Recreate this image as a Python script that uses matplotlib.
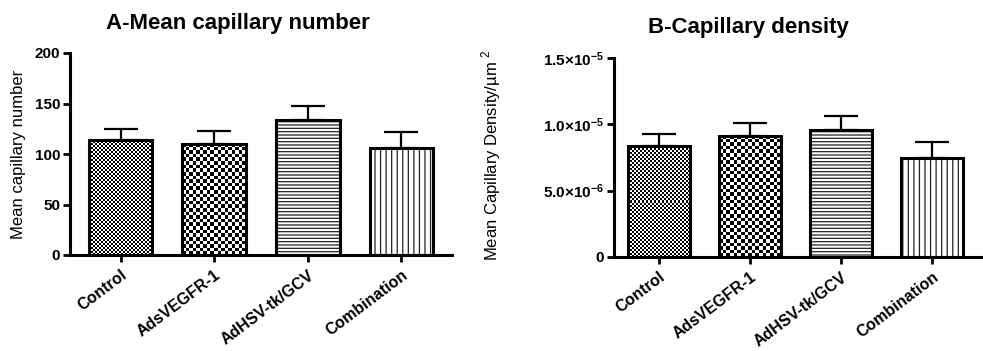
import numpy as np
import matplotlib
matplotlib.use("Agg")
import matplotlib.pyplot as plt

plt.rcParams['font.family'] = ['Liberation Sans', 'DejaVu Sans']
plt.rcParams['mathtext.fontset'] = 'custom'
plt.rcParams['mathtext.rm'] = 'Liberation Sans'
plt.rcParams['mathtext.bf'] = 'Liberation Sans:bold'
plt.rcParams['hatch.linewidth'] = 0.9

categories = ["Control", "AdsVEGFR-1", "AdHSV-tk/GCV", "Combination"]

# Panel A: mean capillary number
a_means = [114, 110, 134, 106]
a_errs = [11, 13, 14, 16]
a_yticks = [0, 50, 100, 150, 200]
a_yticklabels = ["0", "50", "100", "150", "200"]

# Panel B: capillary density
b_means = [8.36e-6, 9.14e-6, 9.57e-6, 7.44e-6]
b_errs = [0.91e-6, 0.93e-6, 1.06e-6, 1.25e-6]
b_yticks = [0, 5e-6, 1e-5, 1.5e-5]
b_yticklabels = ["0", r"$\mathbf{5.0{\times}10^{-6}}$",
                 r"$\mathbf{1.0{\times}10^{-5}}$", r"$\mathbf{1.5{\times}10^{-5}}$"]

# fill style per bar: ('checker', cell_px) or ('hatch', pattern)
fills = [("checker", 2.0), ("checker", 3.6), ("hatch", "-----"), ("hatch", "|||")]

W, H = 983, 351
fig = plt.figure(figsize=(W / 100, H / 100), dpi=100)


def px_axes(x0, x1, ytop, ybot):
    return fig.add_axes([x0 / W, 1 - ybot / H, (x1 - x0) / W, (ybot - ytop) / H])


def draw_panel(ax, means, errs, xlim, ylim, yticks, yticklabels, ylabel, ytick_fs):
    x = np.arange(len(categories))
    width = 0.68
    ax.set_xlim(*xlim)
    ax.set_ylim(*ylim)
    hatches = [f[1] if f[0] == "hatch" else "" for f in fills]
    bars = ax.bar(x, means, width=width, color="white", edgecolor="#222222",
                  linewidth=0, hatch=hatches, zorder=2)
    for patch, f in zip(bars.patches, fills):
        if f[0] != "checker":
            continue
        cell = f[1]
        x0, y0 = patch.get_x(), patch.get_y()
        w, h = patch.get_width(), patch.get_height()
        (px0, py0), (px1, py1) = ax.transData.transform([(x0, y0), (x0 + w, y0 + h)])
        nx = max(1, int(round((px1 - px0) / cell)))
        ny = max(1, int(round((py1 - py0) / cell)))
        arr = np.add.outer(np.arange(ny), np.arange(nx)) % 2
        im = ax.imshow(arr, cmap="gray", vmin=0, vmax=1,
                       extent=(x0, x0 + w, y0, y0 + h), origin="lower",
                       interpolation="nearest", aspect="auto", zorder=2.5)
        im.set_clip_path(patch)
    ax.bar(x, means, width=width, fill=False, edgecolor="black", linewidth=2.2, zorder=3)
    ax.errorbar(x, means, yerr=[np.zeros(len(errs)), errs], fmt="none",
                ecolor="black", elinewidth=1.6, capsize=12, capthick=1.6, zorder=1)
    ax.set_xlim(*xlim)
    ax.set_ylim(*ylim)
    ax.set_aspect("auto")
    for s in ["top", "right"]:
        ax.spines[s].set_visible(False)
    for s in ["left", "bottom"]:
        ax.spines[s].set_linewidth(2.2)
    ax.set_yticks(yticks)
    ax.set_yticklabels(yticklabels, fontsize=ytick_fs, fontweight="bold")
    ax.set_xticks(x)
    ax.set_xticklabels(categories, rotation=37, ha="right", rotation_mode="anchor",
                       fontsize=11.5, fontweight="bold")
    ax.tick_params(axis="both", length=5, width=2, direction="out")
    ax.tick_params(axis="x", pad=4)
    ax.tick_params(axis="y", pad=2)
    ax.set_ylabel(ylabel, fontsize=12)


axA = px_axes(70, 452, 53, 255)
draw_panel(axA, a_means, a_errs, (-0.54, 3.54), (0, 200), a_yticks, a_yticklabels,
           "Mean capillary number", 11)
axA.yaxis.set_label_coords(-0.115, 0.5)

axB = px_axes(614, 983, 58, 257)
draw_panel(axB, b_means, b_errs, (-0.495, 3.56), (0, 1.5e-5), b_yticks, b_yticklabels,
           r"Mean Capillary Density/µm $^{2}$", 11)
axB.yaxis.set_label_coords(-0.30, 0.51)

fig.text(238 / W, 1 - 23 / H, "A-Mean capillary number", ha="center", va="center",
         fontsize=16, fontweight="bold")
fig.text(748 / W, 1 - 28 / H, "B-Capillary density", ha="center", va="center",
         fontsize=16, fontweight="bold")

fig.savefig("out.png", dpi=100)
